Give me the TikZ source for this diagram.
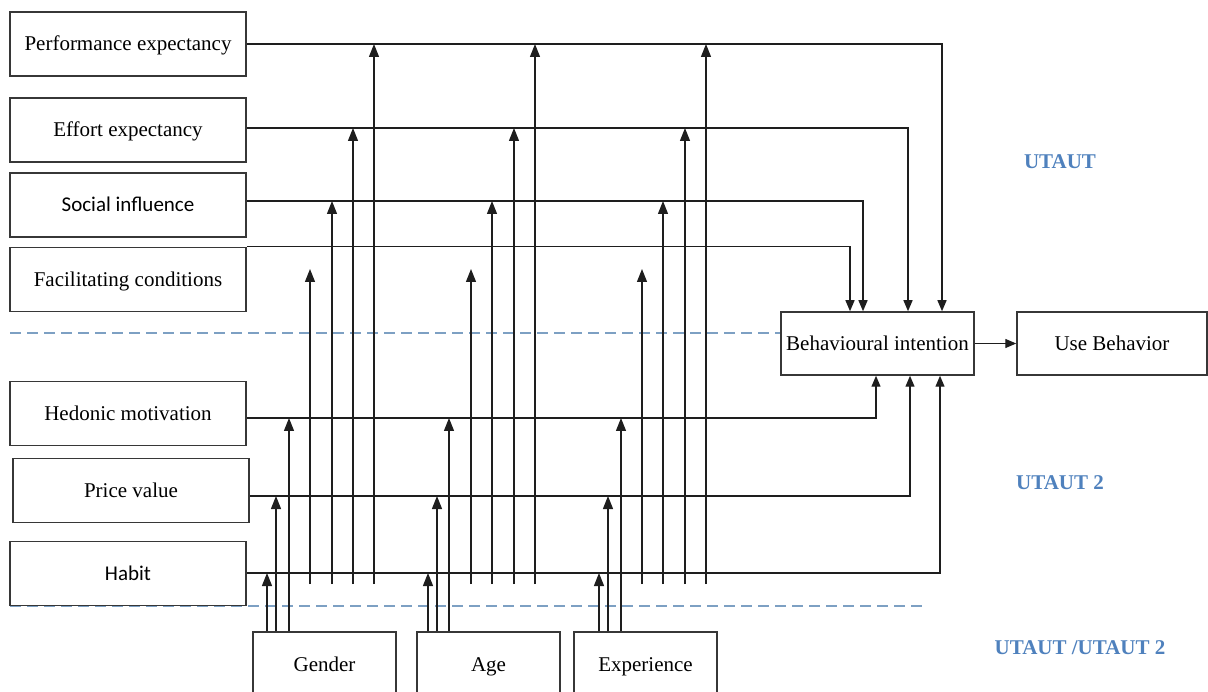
\documentclass[tikz,border=0pt]{standalone}
\usepackage{fontspec}
\setmainfont{Liberation Serif}
\newfontfamily\calibrifont{Carlito}
\usetikzlibrary{arrows.meta}
\definecolor{linegray}{RGB}{30,30,30}
\definecolor{boxgray}{RGB}{55,55,55}
\definecolor{dashblue}{RGB}{125,160,195}
\definecolor{labelblue}{RGB}{79,129,189}

\begin{document}
\begin{tikzpicture}[x=1pt,y=-1pt,
  box/.style={draw=boxgray, line width=1.5pt, minimum height=64pt, inner sep=0pt,
              text height=18pt, text depth=4pt,
              font=\fontsize{21}{24}\selectfont},
  conn/.style={draw=linegray, line width=1.3pt},
  tobi/.style={conn, -{Triangle[length=11pt,width=9pt]}},
  mod/.style={conn, -{Triangle[length=13pt,width=10pt]}},
  divider/.style={draw=dashblue, line width=1.6pt, dash pattern=on 11pt off 6pt},
  region/.style={text=labelblue, font=\fontsize{21}{24}\selectfont\bfseries}
]
\clip (0,0) rectangle (1208,692);

% section dividers
\coordinate (dvA) at (10,333);
\coordinate (dvB) at (10,606);
\draw[divider] (dvA) -- (781,333);
\draw[divider] (dvB) -- (928,606);

% constructs
\node[box, minimum width=236pt] (pe)  at (128,44)    {Performance expectancy};
\node[box, minimum width=236pt] (ee)  at (128,130)   {Effort expectancy};
\node[box, minimum width=236pt] (si)  at (128,205)   {\calibrifont Social influence};
\node[box, minimum width=236pt] (fc)  at (128,279.5) {Facilitating conditions};
\node[box, minimum width=236pt] (hm)  at (128,413.5) {Hedonic motivation};
\node[box, minimum width=236pt] (pv)  at (131,490.5) {Price value};
\node[box, minimum width=236pt] (hab) at (128,573.5) {\calibrifont Habit};

\node[box, minimum width=193pt, minimum height=63pt] (bi) at (877.5,343.5) {Behavioural intention};
\node[box, minimum width=190pt, minimum height=63pt] (ub) at (1112,343.5) {Use Behavior};

% moderators
\node[box, minimum width=143pt] (gender) at (324.5,664) {Gender};
\node[box, minimum width=143pt] (age)    at (488.5,664) {Age};
\node[box, minimum width=143pt] (exp)    at (645.5,664) {Experience};

% region labels
\node[region] (lbA) at (1060,162) {UTAUT};
\node[region] (lbB) at (1060,483) {UTAUT 2};
\node[region] (lbC) at (1080,648) {UTAUT /UTAUT 2};

% levels of the construct lines
\coordinate (yPE)  at (0,44);
\coordinate (yEE)  at (0,128);
\coordinate (ySI)  at (0,201);
\coordinate (yFC)  at (0,269);
\coordinate (yHM)  at (0,418);
\coordinate (yPV)  at (0,496);
\coordinate (yHAB) at (0,573);
\coordinate (yLow) at (0,584);

% drop points into the intention box
\coordinate (xPE)  at (942,0);
\coordinate (xEE)  at (908,0);
\coordinate (xSI)  at (863,0);
\coordinate (xFC)  at (850,0);
\coordinate (xHM)  at (876,0);
\coordinate (xPV)  at (910,0);
\coordinate (xHAB) at (940,0);

% construct -> behavioural intention
\draw[tobi] (pe.east |- yPE)  -| (bi.north -| xPE);
\draw[tobi] (ee.east |- yEE)  -| (bi.north -| xEE);
\draw[tobi] (si.east |- ySI)  -| (bi.north -| xSI);
\draw[tobi] (fc.north east)   -| (bi.north -| xFC);
\draw[tobi] (hm.east |- yHM)  -| (bi.south -| xHM);
\draw[tobi] (pv.east |- yPV)  -| (bi.south -| xPV);
\draw[tobi] (hab.east |- yHAB) -| (bi.south -| xHAB);
\draw[tobi] (bi.east) -- (ub.west);

% moderating effects
\foreach \xa/\xb/\xc/\xd/\xe/\xf/\xg/\m in
  {267/276/289/310/332/353/374/gender,
   428/437/449/471/492/514/535/age,
   599/608/621/642/663/685/706/exp} {
  \draw[mod] (\m.north -| \xa,0) -- (yHAB -| \xa,0);
  \draw[mod] (\m.north -| \xb,0) -- (yPV -| \xb,0);
  \draw[mod] (\m.north -| \xc,0) -- (yHM -| \xc,0);
  \draw[mod] (yLow -| \xd,0) -- (yFC -| \xd,0);
  \draw[mod] (yLow -| \xe,0) -- (ySI -| \xe,0);
  \draw[mod] (yLow -| \xf,0) -- (yEE -| \xf,0);
  \draw[mod] (yLow -| \xg,0) -- (yPE -| \xg,0);
}
\end{tikzpicture}
\end{document}
